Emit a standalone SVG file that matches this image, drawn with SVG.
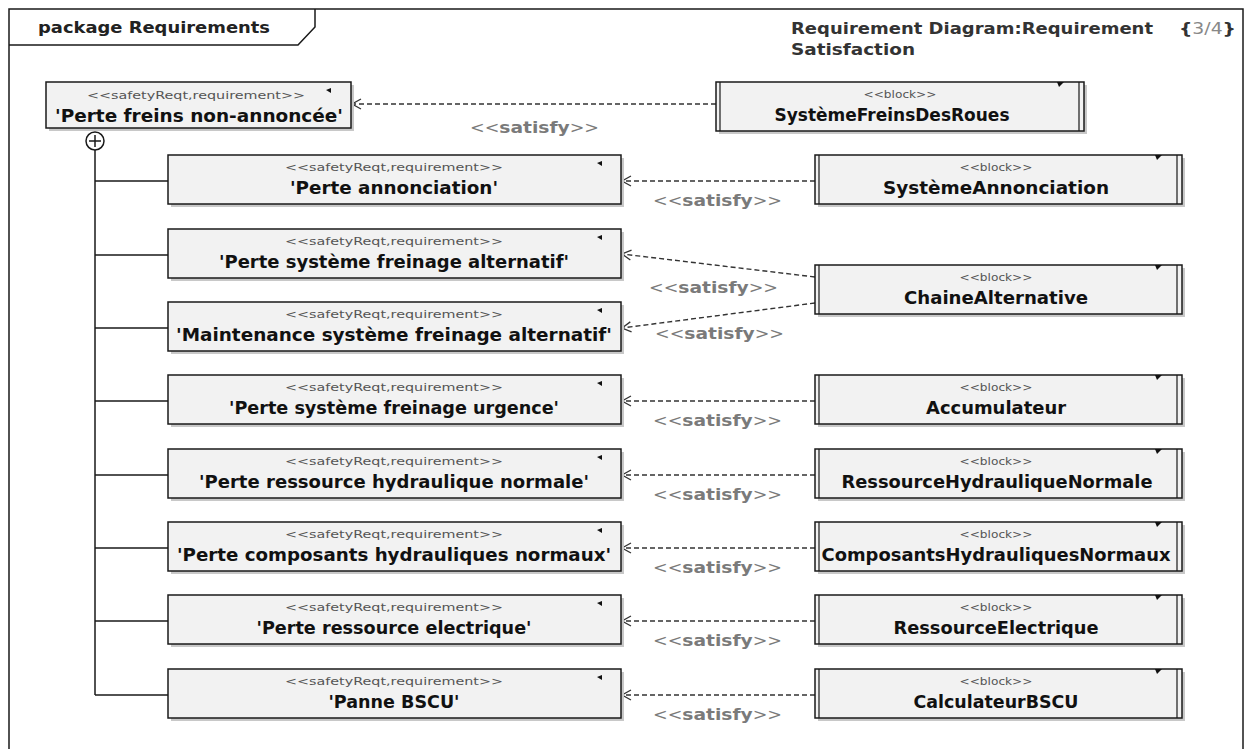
<svg xmlns="http://www.w3.org/2000/svg" width="1249" height="749" viewBox="0 0 1249 749">
<style>
.bg{fill:#ffffff}
.frame{fill:none;stroke:#1a1a1a;stroke-width:1.5}
.box{fill:#f2f2f2;stroke:#1a1a1a;stroke-width:1.5}
.shadow{fill:#c8c8c8}
.inner{stroke:#1a1a1a;stroke-width:1.2}
.mark{fill:#111}
.st{font-family:"DejaVu Sans","Liberation Sans",sans-serif;font-size:11px;fill:#555;text-anchor:middle}
.nm{font-family:"DejaVu Sans","Liberation Sans",sans-serif;font-size:17.5px;font-weight:bold;fill:#111;text-anchor:middle}
.lbl{font-family:"DejaVu Sans","Liberation Sans",sans-serif;font-size:15px;fill:#7a7a7a}
.lbl tspan.b{font-weight:bold;font-size:16px}
.hdr{font-family:"DejaVu Sans","Liberation Sans",sans-serif;font-size:16px;font-weight:bold;fill:#222}
.ttl{font-family:"DejaVu Sans","Liberation Sans",sans-serif;font-size:16px;font-weight:bold;fill:#333}
.conn{fill:none;stroke:#333;stroke-width:1.4;stroke-dasharray:5 3}
.tree{fill:none;stroke:#1a1a1a;stroke-width:1.5}
</style>
<defs>
<marker id="open" markerUnits="userSpaceOnUse" markerWidth="12" markerHeight="14" refX="10" refY="7" orient="auto">
<path d="M1,2 L10,7 L1,12" fill="none" stroke="#333" stroke-width="1.3"/>
</marker>
</defs>
<rect class="bg" x="0" y="0" width="1249" height="749"/>
<g id="frame">
<rect class="frame" x="9" y="9" width="1234" height="760"/>
<path class="frame" d="M9,45 H298 L315,27 V9"/>
<text class="hdr" x="38" y="33" textLength="232" lengthAdjust="spacingAndGlyphs">package Requirements</text>
<text class="ttl" x="791" y="34" textLength="362" lengthAdjust="spacingAndGlyphs">Requirement Diagram:Requirement</text>
<text class="ttl" x="791" y="55" textLength="124" lengthAdjust="spacingAndGlyphs">Satisfaction</text>
<text class="ttl" x="1179" y="34" textLength="57" lengthAdjust="spacingAndGlyphs">{<tspan fill="#888" font-weight="normal">3/4</tspan>}</text>
</g>

<g id="connectors">
<path class="tree" d="M95,150 V695 M95,181 H168 M95,255 H168 M95,328 H168 M95,401 H168 M95,475 H168 M95,548 H168 M95,621 H168 M95,695 H168"/>
<line class="conn" x1="716" y1="104" x2="352" y2="104" marker-end="url(#open)"/>
<line class="conn" x1="815" y1="181" x2="622" y2="181" marker-end="url(#open)"/>
<line class="conn" x1="815" y1="277" x2="622" y2="254" marker-end="url(#open)"/>
<line class="conn" x1="815" y1="303" x2="622" y2="328" marker-end="url(#open)"/>
<line class="conn" x1="815" y1="401" x2="622" y2="401" marker-end="url(#open)"/>
<line class="conn" x1="815" y1="475" x2="622" y2="475" marker-end="url(#open)"/>
<line class="conn" x1="815" y1="548" x2="622" y2="548" marker-end="url(#open)"/>
<line class="conn" x1="815" y1="621" x2="622" y2="621" marker-end="url(#open)"/>
<line class="conn" x1="815" y1="695" x2="622" y2="695" marker-end="url(#open)"/>
<text class="lbl" x="470" y="133" textLength="129" lengthAdjust="spacingAndGlyphs">&lt;&lt;<tspan class="b">satisfy</tspan>&gt;&gt;</text>
<text class="lbl" x="653" y="206" textLength="129" lengthAdjust="spacingAndGlyphs">&lt;&lt;<tspan class="b">satisfy</tspan>&gt;&gt;</text>
<text class="lbl" x="649" y="293" textLength="129" lengthAdjust="spacingAndGlyphs">&lt;&lt;<tspan class="b">satisfy</tspan>&gt;&gt;</text>
<text class="lbl" x="655" y="339" textLength="129" lengthAdjust="spacingAndGlyphs">&lt;&lt;<tspan class="b">satisfy</tspan>&gt;&gt;</text>
<text class="lbl" x="653" y="426" textLength="129" lengthAdjust="spacingAndGlyphs">&lt;&lt;<tspan class="b">satisfy</tspan>&gt;&gt;</text>
<text class="lbl" x="653" y="500" textLength="129" lengthAdjust="spacingAndGlyphs">&lt;&lt;<tspan class="b">satisfy</tspan>&gt;&gt;</text>
<text class="lbl" x="653" y="573" textLength="129" lengthAdjust="spacingAndGlyphs">&lt;&lt;<tspan class="b">satisfy</tspan>&gt;&gt;</text>
<text class="lbl" x="653" y="646" textLength="129" lengthAdjust="spacingAndGlyphs">&lt;&lt;<tspan class="b">satisfy</tspan>&gt;&gt;</text>
<text class="lbl" x="653" y="720" textLength="129" lengthAdjust="spacingAndGlyphs">&lt;&lt;<tspan class="b">satisfy</tspan>&gt;&gt;</text>
</g>

<g id="req-perte-freins">
<rect class="shadow" x="49" y="85" width="305" height="46"/>
<rect class="box" x="46" y="82" width="305" height="46"/>
<path class="mark" d="M326,90 L331,88 L331,93 Z"/>
<text class="st" x="196" y="99" textLength="218" lengthAdjust="spacingAndGlyphs">&lt;&lt;safetyReqt,requirement&gt;&gt;</text>
<text class="nm" x="199" y="122" textLength="288" lengthAdjust="spacingAndGlyphs">'Perte freins non-annoncée'</text>
<circle cx="95" cy="141" r="9" fill="#fff" stroke="#1a1a1a" stroke-width="1.5"/>
<path class="tree" d="M89,141 H101 M95,135 V147"/>
</g>

<g id="blk-freins-roues">
<rect class="shadow" x="719" y="85" width="368" height="49"/>
<rect class="box" x="716" y="82" width="368" height="49"/>
<path class="inner" d="M720,82 V131 M1079,82 V131"/>
<path class="mark" d="M1057,82 H1064 L1059,87 Z"/>
<text class="st" x="900" y="98" textLength="73" lengthAdjust="spacingAndGlyphs">&lt;&lt;block&gt;&gt;</text>
<text class="nm" x="892" y="121" textLength="235" lengthAdjust="spacingAndGlyphs">SystèmeFreinsDesRoues</text>
</g>

<g id="req-annonciation">
<rect class="shadow" x="171" y="158" width="453" height="49"/>
<rect class="box" x="168" y="155" width="453" height="49"/>
<path class="mark" d="M597,163 L602,161 L602,166 Z"/>
<text class="st" x="394" y="171" textLength="218" lengthAdjust="spacingAndGlyphs">&lt;&lt;safetyReqt,requirement&gt;&gt;</text>
<text class="nm" x="394" y="194" textLength="208" lengthAdjust="spacingAndGlyphs">'Perte annonciation'</text>
</g>
<g id="req-alt">
<rect class="shadow" x="171" y="232" width="453" height="49"/>
<rect class="box" x="168" y="229" width="453" height="49"/>
<path class="mark" d="M597,237 L602,235 L602,240 Z"/>
<text class="st" x="394" y="245" textLength="218" lengthAdjust="spacingAndGlyphs">&lt;&lt;safetyReqt,requirement&gt;&gt;</text>
<text class="nm" x="394" y="268" textLength="350" lengthAdjust="spacingAndGlyphs">'Perte système freinage alternatif'</text>
</g>
<g id="req-maint-alt">
<rect class="shadow" x="171" y="305" width="453" height="49"/>
<rect class="box" x="168" y="302" width="453" height="49"/>
<path class="mark" d="M597,310 L602,308 L602,313 Z"/>
<text class="st" x="394" y="318" textLength="218" lengthAdjust="spacingAndGlyphs">&lt;&lt;safetyReqt,requirement&gt;&gt;</text>
<text class="nm" x="394" y="341" textLength="436" lengthAdjust="spacingAndGlyphs">'Maintenance système freinage alternatif'</text>
</g>
<g id="req-urgence">
<rect class="shadow" x="171" y="378" width="453" height="49"/>
<rect class="box" x="168" y="375" width="453" height="49"/>
<path class="mark" d="M597,383 L602,381 L602,386 Z"/>
<text class="st" x="394" y="391" textLength="218" lengthAdjust="spacingAndGlyphs">&lt;&lt;safetyReqt,requirement&gt;&gt;</text>
<text class="nm" x="394" y="414" textLength="330" lengthAdjust="spacingAndGlyphs">'Perte système freinage urgence'</text>
</g>
<g id="req-hyd-normale">
<rect class="shadow" x="171" y="452" width="453" height="49"/>
<rect class="box" x="168" y="449" width="453" height="49"/>
<path class="mark" d="M597,457 L602,455 L602,460 Z"/>
<text class="st" x="394" y="465" textLength="218" lengthAdjust="spacingAndGlyphs">&lt;&lt;safetyReqt,requirement&gt;&gt;</text>
<text class="nm" x="394" y="488" textLength="390" lengthAdjust="spacingAndGlyphs">'Perte ressource hydraulique normale'</text>
</g>
<g id="req-composants">
<rect class="shadow" x="171" y="525" width="453" height="49"/>
<rect class="box" x="168" y="522" width="453" height="49"/>
<path class="mark" d="M597,530 L602,528 L602,533 Z"/>
<text class="st" x="394" y="538" textLength="218" lengthAdjust="spacingAndGlyphs">&lt;&lt;safetyReqt,requirement&gt;&gt;</text>
<text class="nm" x="394" y="561" textLength="434" lengthAdjust="spacingAndGlyphs">'Perte composants hydrauliques normaux'</text>
</g>
<g id="req-electrique">
<rect class="shadow" x="171" y="598" width="453" height="49"/>
<rect class="box" x="168" y="595" width="453" height="49"/>
<path class="mark" d="M597,603 L602,601 L602,606 Z"/>
<text class="st" x="394" y="611" textLength="218" lengthAdjust="spacingAndGlyphs">&lt;&lt;safetyReqt,requirement&gt;&gt;</text>
<text class="nm" x="394" y="634" textLength="275" lengthAdjust="spacingAndGlyphs">'Perte ressource electrique'</text>
</g>
<g id="req-bscu">
<rect class="shadow" x="171" y="672" width="453" height="49"/>
<rect class="box" x="168" y="669" width="453" height="49"/>
<path class="mark" d="M597,677 L602,675 L602,680 Z"/>
<text class="st" x="394" y="685" textLength="218" lengthAdjust="spacingAndGlyphs">&lt;&lt;safetyReqt,requirement&gt;&gt;</text>
<text class="nm" x="394" y="708" textLength="131" lengthAdjust="spacingAndGlyphs">'Panne BSCU'</text>
</g>

<g id="blk-annonciation">
<rect class="shadow" x="818" y="158" width="367" height="49"/>
<rect class="box" x="815" y="155" width="367" height="49"/>
<path class="inner" d="M819,155 V204 M1177,155 V204"/>
<path class="mark" d="M1155,155 H1162 L1157,160 Z"/>
<text class="st" x="996" y="171" textLength="73" lengthAdjust="spacingAndGlyphs">&lt;&lt;block&gt;&gt;</text>
<text class="nm" x="996" y="194" textLength="226" lengthAdjust="spacingAndGlyphs">SystèmeAnnonciation</text>
</g>
<g id="blk-chaine-alt">
<rect class="shadow" x="818" y="268" width="367" height="49"/>
<rect class="box" x="815" y="265" width="367" height="49"/>
<path class="inner" d="M819,265 V314 M1177,265 V314"/>
<path class="mark" d="M1155,265 H1162 L1157,270 Z"/>
<text class="st" x="996" y="281" textLength="73" lengthAdjust="spacingAndGlyphs">&lt;&lt;block&gt;&gt;</text>
<text class="nm" x="996" y="304" textLength="184" lengthAdjust="spacingAndGlyphs">ChaineAlternative</text>
</g>
<g id="blk-accumulateur">
<rect class="shadow" x="818" y="378" width="367" height="49"/>
<rect class="box" x="815" y="375" width="367" height="49"/>
<path class="inner" d="M819,375 V424 M1177,375 V424"/>
<path class="mark" d="M1155,375 H1162 L1157,380 Z"/>
<text class="st" x="996" y="391" textLength="73" lengthAdjust="spacingAndGlyphs">&lt;&lt;block&gt;&gt;</text>
<text class="nm" x="996" y="414" textLength="140" lengthAdjust="spacingAndGlyphs">Accumulateur</text>
</g>
<g id="blk-hyd-normale">
<rect class="shadow" x="818" y="452" width="367" height="49"/>
<rect class="box" x="815" y="449" width="367" height="49"/>
<path class="inner" d="M819,449 V498 M1177,449 V498"/>
<path class="mark" d="M1155,449 H1162 L1157,454 Z"/>
<text class="st" x="996" y="465" textLength="73" lengthAdjust="spacingAndGlyphs">&lt;&lt;block&gt;&gt;</text>
<text class="nm" x="997" y="488" textLength="311" lengthAdjust="spacingAndGlyphs">RessourceHydrauliqueNormale</text>
</g>
<g id="blk-composants">
<rect class="shadow" x="818" y="525" width="367" height="49"/>
<rect class="box" x="815" y="522" width="367" height="49"/>
<path class="inner" d="M819,522 V571 M1177,522 V571"/>
<path class="mark" d="M1155,522 H1162 L1157,527 Z"/>
<text class="st" x="996" y="538" textLength="73" lengthAdjust="spacingAndGlyphs">&lt;&lt;block&gt;&gt;</text>
<text class="nm" x="996" y="561" textLength="349" lengthAdjust="spacingAndGlyphs">ComposantsHydrauliquesNormaux</text>
</g>
<g id="blk-electrique">
<rect class="shadow" x="818" y="598" width="367" height="49"/>
<rect class="box" x="815" y="595" width="367" height="49"/>
<path class="inner" d="M819,595 V644 M1177,595 V644"/>
<path class="mark" d="M1155,595 H1162 L1157,600 Z"/>
<text class="st" x="996" y="611" textLength="73" lengthAdjust="spacingAndGlyphs">&lt;&lt;block&gt;&gt;</text>
<text class="nm" x="996" y="634" textLength="205" lengthAdjust="spacingAndGlyphs">RessourceElectrique</text>
</g>
<g id="blk-bscu">
<rect class="shadow" x="818" y="672" width="367" height="49"/>
<rect class="box" x="815" y="669" width="367" height="49"/>
<path class="inner" d="M819,669 V718 M1177,669 V718"/>
<path class="mark" d="M1155,669 H1162 L1157,674 Z"/>
<text class="st" x="996" y="685" textLength="73" lengthAdjust="spacingAndGlyphs">&lt;&lt;block&gt;&gt;</text>
<text class="nm" x="996" y="708" textLength="165" lengthAdjust="spacingAndGlyphs">CalculateurBSCU</text>
</g>
</svg>
